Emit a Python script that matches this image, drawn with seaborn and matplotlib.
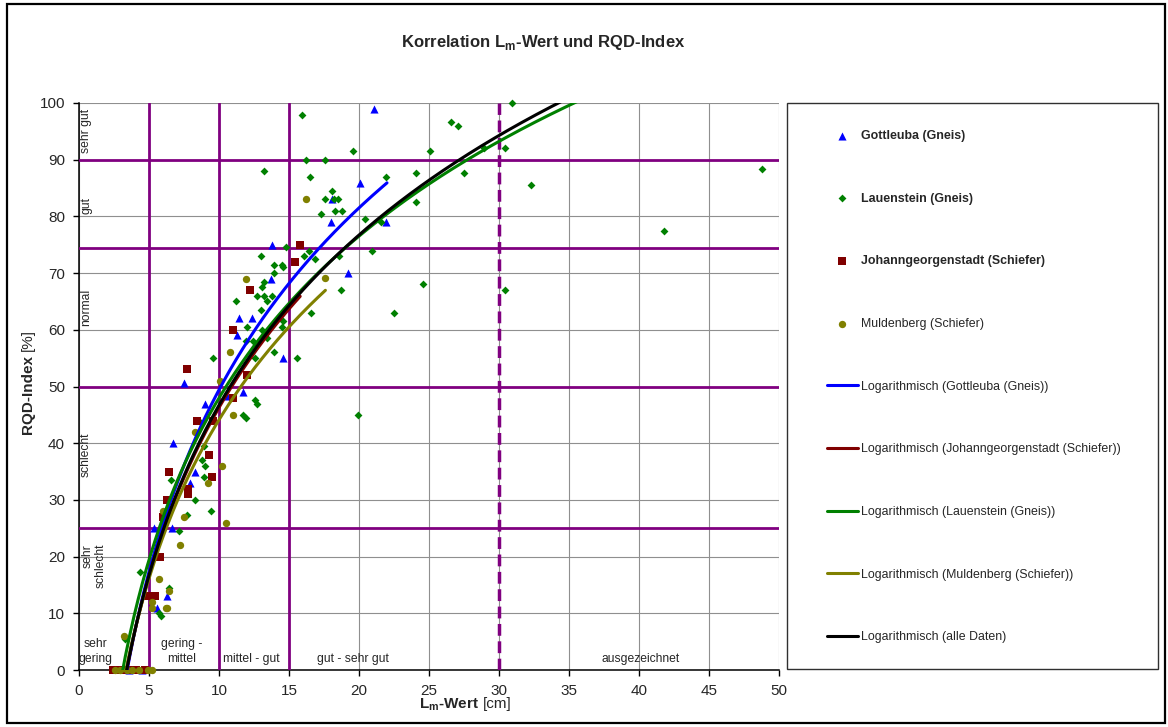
import numpy as np
import matplotlib
matplotlib.use("Agg")
import matplotlib.pyplot as plt
import seaborn as sns
from matplotlib.patches import Rectangle

sns.set_style("white")
plt.rcParams["font.family"] = ["Liberation Sans", "DejaVu Sans"]

gottleuba_x = [21.1, 20.1, 18.1, 18.0, 21.9, 19.2, 13.8, 13.7, 11.45, 12.36, 11.3, 14.6, 7.5,
               10.6, 11.7, 9.0, 8.3, 6.7, 7.9, 5.36, 6.64, 6.3, 5.55, 3.6, 4.5]
gottleuba_y = [98.9, 85.9, 83.0, 79.0, 79.0, 70.0, 75.0, 69.0, 62.0, 62.0, 59.0, 55.0, 50.6,
               48.3, 49.0, 47.0, 35.0, 40.0, 33.0, 25.0, 25.0, 13.0, 11.0, 0.0, 0.0]

lauenstein_x = [13.2, 13.0, 13.9, 14.5, 14.6, 13.2, 13.9, 13.05, 12.7, 13.2,
                13.8, 13.4, 11.2, 13.0, 12.0, 13.1, 11.9, 12.45, 13.45, 14.5,
                14.55, 9.55, 12.6, 13.95, 15.6, 14.8, 15.95, 16.2, 17.6, 16.5,
                17.6, 18.1, 18.5, 18.2, 17.3, 18.3, 18.8, 16.4, 16.1, 16.86,
                16.6, 18.7, 19.6, 21.95, 20.4, 21.6, 18.6, 20.9, 22.5, 24.1,
                25.1, 24.1, 24.6, 26.6, 27.1, 27.5, 28.9, 30.45, 30.95, 30.4,
                32.3, 48.8, 41.8, 19.9, 12.6, 12.7, 11.7, 11.9, 8.6, 8.9,
                8.8, 9.0, 8.9, 6.6, 8.3, 9.4, 7.7, 7.14, 4.36, 6.4,
                5.7, 5.85, 3.3]
lauenstein_y = [88.0, 73.0, 71.5, 71.5, 71.0, 68.5, 70.0, 67.5, 66.0, 66.0,
                66.0, 65.0, 65.0, 63.5, 60.5, 60.0, 58.0, 58.0, 58.5, 60.5,
                61.5, 55.0, 55.0, 56.0, 55.0, 74.6, 97.9, 90.0, 90.0, 86.9,
                83.0, 84.5, 83.0, 83.0, 80.4, 81.0, 81.0, 73.9, 73.0, 72.4,
                63.0, 67.0, 91.5, 86.9, 79.5, 79.0, 73.0, 73.9, 63.0, 87.6,
                91.5, 82.5, 68.0, 96.6, 96.0, 87.6, 92.0, 92.0, 100.0, 67.0,
                85.5, 88.4, 77.5, 45.0, 47.6, 47.0, 45.0, 44.5, 44.0, 39.5,
                37.0, 36.0, 34.0, 33.5, 30.0, 28.0, 27.3, 24.5, 17.2, 14.5,
                10.0, 9.6, 5.5]

johann_x = [15.8, 15.4, 12.2, 11.0, 12.0, 7.74, 11.0, 8.4, 9.6, 9.3, 9.5, 6.4, 7.8,
            7.8, 6.3, 6.0, 5.8, 5.4, 4.95, 2.4, 2.7, 3.1, 3.8, 4.1, 4.7]
johann_y = [75.0, 72.0, 67.0, 60.0, 52.0, 53.0, 48.0, 44.0, 44.0, 38.0, 34.0, 35.0, 32.0,
            31.0, 30.0, 27.0, 20.0, 13.0, 13.0, 0.0, 0.0, 0.0, 0.0, 0.0, 0.0]

mulden_x = [16.2, 17.6, 11.9, 10.8, 10.1, 11.0, 8.3, 10.2, 9.2, 7.5, 10.5, 6.0, 7.2, 5.7,
            6.4, 5.2, 5.2, 6.2, 6.3, 3.24, 2.6, 2.9, 3.4, 3.8, 4.3, 4.9, 5.2]
mulden_y = [83.0, 69.2, 69.0, 56.0, 51.0, 45.0, 42.0, 36.0, 33.0, 27.0, 26.0, 28.0, 22.0, 16.0,
            14.0, 12.0, 11.0, 11.0, 11.0, 6.0, 0.0, 0.0, 0.0, 0.0, 0.0, 0.0, 0.0]

# logarithmische Trendlinien y = a*ln(x) + b (aus dem Bild abgeschätzt)
trend_labels = ["Logarithmisch (Gottleuba (Gneis))",
                "Logarithmisch (Johanngeorgenstadt (Schiefer))",
                "Logarithmisch (Lauenstein (Gneis))",
                "Logarithmisch (Muldenberg (Schiefer))",
                "Logarithmisch (alle Daten)"]
trend_a = [46.3, 42.9, 41.2, 40.4, 43.3]
trend_b = [-57.2, -52.5, -46.9, -48.9, -53.0]
trend_xmin = [3.4, 2.4, 3.0, 2.6, 2.4]
trend_xmax = [22.0, 15.8, 48.8, 17.6, 48.8]
trend_colors = ["#0000FF", "#800000", "#008000", "#808000", "#000000"]

# Klassengrenzen
rqd_limits = [25, 50, 74.5, 90]
lm_limits = [5, 10, 15]

W, H = 1168, 727
fig = plt.figure(figsize=(W / 100, H / 100), dpi=100)
ax = fig.add_axes([79 / W, 57 / H, 700 / W, 567 / H])

series = [
    ("Gottleuba (Gneis)", gottleuba_x, gottleuba_y, "#0000FF", "^", 34),
    ("Lauenstein (Gneis)", lauenstein_x, lauenstein_y, "#008000", "D", 16),
    ("Johanngeorgenstadt (Schiefer)", johann_x, johann_y, "#800000", "s", 26),
    ("Muldenberg (Schiefer)", mulden_x, mulden_y, "#808000", "o", 28),
]
for name, xs, ys, col, mk, sz in series:
    sns.scatterplot(x=xs, y=ys, color=col, marker=mk, s=sz, linewidth=0,
                    label=name, ax=ax, clip_on=False, zorder=4)

for lab, a, b, x0, x1, col in zip(trend_labels, trend_a, trend_b, trend_xmin, trend_xmax, trend_colors):
    xs = np.linspace(x0, x1, 300)
    sns.lineplot(x=xs, y=a * np.log(xs) + b, color=col, linewidth=2.2,
                 label=lab, ax=ax, zorder=5)

for y in rqd_limits:
    ax.axhline(y, color="#800080", lw=2.0, zorder=3)
for x in lm_limits:
    ax.axvline(x, color="#800080", lw=2.0, zorder=3)
ax.axvline(30, color="#800080", lw=2.5, dashes=(3.4, 1.6), zorder=3)

ax.set_xlim(0, 50)
ax.set_ylim(0, 100)
ax.set_xticks(range(0, 51, 5))
ax.set_yticks(range(0, 101, 10))
ax.grid(True, color="#8f8f8f", lw=0.8, zorder=0)
ax.set_axisbelow(True)
for s in ["top", "right"]:
    ax.spines[s].set_visible(False)
for s in ["left", "bottom"]:
    ax.spines[s].set_color("black")
    ax.spines[s].set_linewidth(1.1)
ax.tick_params(axis="both", which="major", direction="out", length=4, width=1,
               color="black", labelsize=11, pad=6, left=True, bottom=True)
ax.set_xlabel("")
ax.set_ylabel("")

# Klassenbeschriftungen
fs = 8.7
ax.text(0.5, 95, "sehr gut", rotation=90, ha="center", va="center", fontsize=fs)
ax.text(0.5, 82, "gut", rotation=90, ha="center", va="center", fontsize=fs)
ax.text(0.5, 64, "normal", rotation=90, ha="center", va="center", fontsize=fs)
ax.text(0.5, 38, "schlecht", rotation=90, ha="center", va="center", fontsize=fs)
ax.text(1.07, 18.3, "sehr\nschlecht", rotation=90, ha="center", va="center",
        multialignment="right", fontsize=fs, linespacing=1.1)
ax.text(1.2, 3.3, "sehr\ngering", ha="center", va="center", fontsize=fs, linespacing=1.35)
ax.text(7.3, 3.3, "gering -\nmittel", ha="center", va="center", fontsize=fs, linespacing=1.35)
ax.text(12.34, 1.9, "mittel - gut", ha="center", va="center", fontsize=fs)
ax.text(19.6, 1.9, "gut - sehr gut", ha="center", va="center", fontsize=fs)
ax.text(40.1, 1.9, "ausgezeichnet", ha="center", va="center", fontsize=fs)

# Titel und Achsentitel
fig.text(543 / W, 1 - 42.7 / H, r"Korrelation L$_\mathregular{m}$-Wert und RQD-Index",
         ha="center", va="center", fontsize=12, fontweight="bold")
fig.text(419 / W, 1 - 708 / H, r"L$_\mathregular{m}$-Wert", ha="left", va="baseline",
         fontsize=11, fontweight="bold")
fig.text(483 / W, 1 - 708 / H, "[cm]", ha="left", va="baseline", fontsize=11)
fig.text(28 / W, 1 - 355 / H, "RQD-Index", rotation=90, ha="center", va="top",
         fontsize=11, fontweight="bold")
fig.text(28 / W, 1 - 351 / H, "[%]", rotation=90, ha="center", va="bottom", fontsize=11)

# Legende
handles, labels = ax.get_legend_handles_labels()
if ax.get_legend() is not None:
    ax.get_legend().remove()
hmap = dict(zip(labels, handles))
order = [s[0] for s in series] + trend_labels
lfs = 8.9
leg = fig.legend([hmap[l] for l in order], order, loc="upper left",
                 bbox_to_anchor=(826.7 / W, 1 - 130.0 / H), bbox_transform=fig.transFigure,
                 frameon=False, fontsize=lfs, borderpad=0, borderaxespad=0,
                 handlelength=2.55, handletextpad=0.2, labelspacing=4.10, scatterpoints=1)
for t in leg.get_texts()[:3]:
    t.set_fontweight("bold")

fig.patches.append(Rectangle((786.7 / W, 1 - 669.3 / H), 371 / W, 566 / H,
                             transform=fig.transFigure, fill=False, edgecolor="#303030", lw=1.0))
fig.patches.append(Rectangle((7 / W, 4 / H), 1158 / W, 719 / H,
                             transform=fig.transFigure, fill=False, edgecolor="black", lw=1.6))

fig.savefig("out.png", dpi=100)
